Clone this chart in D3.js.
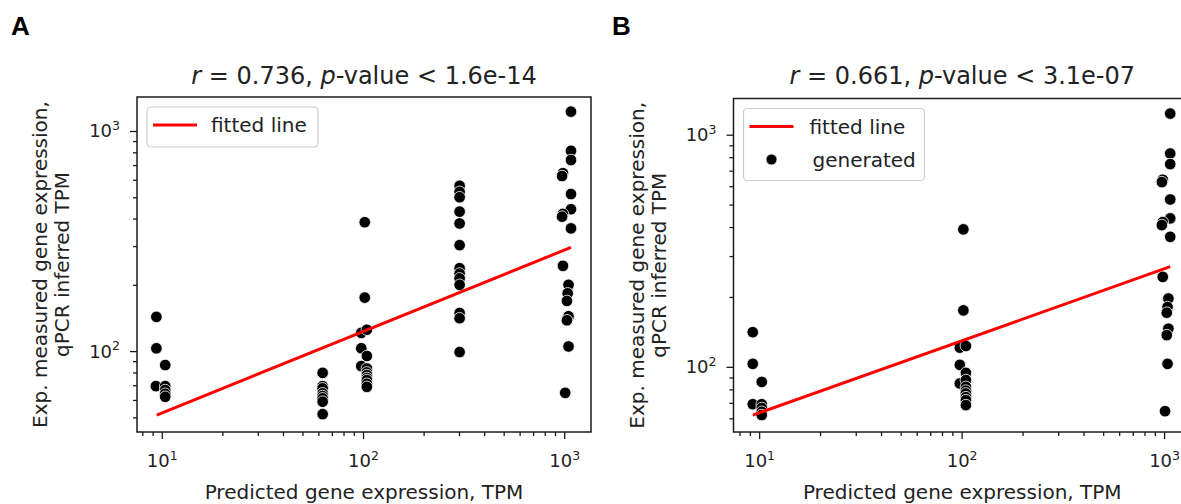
<!DOCTYPE html>
<html lang="en">
<head>
<meta charset="UTF-8" />
<title>qPCR vs predicted expression</title>
<script src="https://d3js.org/d3.v7.min.js"></script>
<style>
  body { margin: 0; background: #fff; overflow: hidden; }
  text { font-family: "DejaVu Sans", sans-serif; fill: #222; }
  .panel-letter { font-family: "Liberation Sans", Arial, sans-serif; font-weight: bold; font-size: 26px; fill: #000; }
  .title { font-size: 24px; }
  .axis-label { font-size: 20px; }
  .tick-label { font-size: 18px; }
  .legend-text { font-size: 20px; }
  .tick line { stroke: #1a1a1a; stroke-width: 1.3; }
</style>
</head>
<body>
<script>
// panel A: predicted TPM vs qPCR-inferred TPM, all tested genes
const aPredicted = [
  9.4, 9.4, 10.4, 9.35, 10.4, 10.4, 10.4, 10.4,
  63, 63, 63, 63, 63, 63, 63, 63,
  102, 102, 98, 104.5, 98, 104.5, 98, 104.5, 104.5, 104.5, 104.5, 104.5, 104.5, 104.5,
  302, 302, 302, 302, 302, 302, 302, 302, 302, 302, 302, 302, 302,
  1080, 1080, 1080, 985, 975, 1080, 1080, 985, 975, 1080, 985, 1050, 1040, 1031, 1050, 1031, 1050, 1011
];
const aMeasured = [
  143, 103, 86.4, 69.3, 69.3, 66.5, 64, 62,
  79.6, 69.3, 67.7, 64.3, 62.5, 61, 58.9, 51.7,
  385, 175, 121, 125, 103, 95, 85.5, 83.4, 80, 77.8, 75.5, 73.8, 71, 68.8,
  564, 529, 500, 430, 380, 303, 238, 225, 214, 200, 149, 141, 99,
  1224, 813, 738, 643, 624, 517, 441, 420, 408, 361, 244, 200, 183, 169, 144, 138, 105, 64.6
];

// panel B: generated promoters only
const bPredicted = [
  9.3, 9.3, 10.3, 9.3, 10.3, 10.3, 10.3, 10.3,
  102, 102, 98, 105, 98, 105, 98, 105, 105, 105, 105, 105, 105, 105,
  1072, 1072, 1072, 985, 975, 1072, 1072, 985, 975, 1072, 985, 1050, 1040, 1031, 1050, 1031, 1040, 1011
];
const bMeasured = [
  141, 103, 86.1, 69, 69, 66.5, 64, 62,
  391, 175, 121, 123, 102, 94.2, 84.8, 87.7, 82, 79, 76.8, 74, 71.9, 68.4,
  1233, 830, 747, 640, 625, 526, 436, 420, 408, 363, 244, 197, 181, 171, 146, 137, 103, 64.4
];

// fitted lines, end points
const aFitX = [9.44, 1080];
const aFitY = [51.2, 296];
const bFitX = [9.31, 1072];
const bFitY = [62, 270];

const titles = [
  { r: "0.736", p: "1.6e-14" },
  { r: "0.661", p: "3.1e-07" }
];
const panelLetters = ["A", "B"];
const legendItems = [["fitted line"], ["fitted line", "generated"]];
const majorTicks = [10, 100, 1000];
const xLabel = "Predicted gene expression, TPM";
const yLabel = ["Exp. measured gene expression,", "qPCR inferred TPM"];

const svg = d3.select("body").append("svg")
  .attr("width", 1181).attr("height", 504);

const panels = [
  { left: 137, right: 591, top: 97, bottom: 432, xDom: [7.53, 1358], yDom: [42.9, 1427],
    xs: aPredicted, ys: aMeasured, fx: aFitX, fy: aFitY, letterX: 11, legendW: 171 },
  { left: 733.5, right: 1191, top: 98.5, bottom: 432, xDom: [7.47, 1358], yDom: [52.4, 1432],
    xs: bPredicted, ys: bMeasured, fx: bFitX, fy: bFitY, letterX: 612, legendW: 181 }
];

function supLabel(sel) {
  sel.each(function (d) {
    const t = d3.select(this).text("");
    t.append("tspan").text("10");
    t.append("tspan").attr("font-size", "12.5px").attr("dy", "-7.5")
      .text(Math.round(Math.log10(d)));
  });
}

panels.forEach((p, i) => {
  const g = svg.append("g");
  const x = d3.scaleLog().domain(p.xDom).range([p.left, p.right]);
  const y = d3.scaleLog().domain(p.yDom).range([p.bottom, p.top]);

  svg.append("text").attr("class", "panel-letter")
    .attr("x", p.letterX).attr("y", 35).text(panelLetters[i]);

  // title
  const tt = g.append("text").attr("class", "title")
    .attr("x", (p.left + p.right) / 2).attr("y", 84).attr("text-anchor", "middle");
  tt.append("tspan").attr("font-style", "italic").text("r");
  tt.append("tspan").text(" = " + titles[i].r + ", ");
  tt.append("tspan").attr("font-style", "italic").text("p");
  tt.append("tspan").text("-value < " + titles[i].p);

  // minor ticks
  const minorX = x.ticks().filter(v => !majorTicks.includes(v));
  const minorY = y.ticks().filter(v => !majorTicks.includes(v));
  g.append("g").attr("transform", `translate(0,${p.bottom})`)
    .call(d3.axisBottom(x).tickValues(minorX).tickSize(4).tickFormat(""))
    .call(a => a.select(".domain").remove());
  g.append("g").attr("transform", `translate(${p.left},0)`)
    .call(d3.axisLeft(y).tickValues(minorY).tickSize(4).tickFormat(""))
    .call(a => a.select(".domain").remove());

  // major ticks
  const xa = g.append("g").attr("transform", `translate(0,${p.bottom})`)
    .call(d3.axisBottom(x).tickValues(majorTicks.filter(v => v >= p.xDom[0] && v <= p.xDom[1]))
      .tickSize(7).tickPadding(0))
    .call(a => a.select(".domain").remove());
  xa.selectAll("text").attr("class", "tick-label").attr("dy", null).attr("y", 35)
    .attr("font-size", null).attr("font-family", null).attr("fill", null).call(supLabel);

  const ya = g.append("g").attr("transform", `translate(${p.left},0)`)
    .call(d3.axisLeft(y).tickValues(majorTicks.filter(v => v >= p.yDom[0] && v <= p.yDom[1]))
      .tickSize(7).tickPadding(0))
    .call(a => a.select(".domain").remove());
  ya.selectAll("text").attr("class", "tick-label").attr("dy", null).attr("y", 6).attr("x", -17)
    .attr("font-size", null).attr("font-family", null).attr("fill", null).call(supLabel);

  // axis labels
  g.append("text").attr("class", "axis-label")
    .attr("x", (p.left + p.right) / 2).attr("y", 499).attr("text-anchor", "middle").text(xLabel);
  const cy = (p.top + p.bottom) / 2;
  yLabel.forEach((line, k) => {
    g.append("text").attr("class", "axis-label").attr("text-anchor", "middle")
      .attr("transform", `translate(${p.left - 90 + k * 22},${cy}) rotate(-90)`)
      .text(line);
  });

  // points
  const pts = p.xs.map((v, k) => ({ x: v, y: p.ys[k] }));
  g.append("g").selectAll("circle").data(pts).join("circle")
    .attr("cx", d => x(d.x)).attr("cy", d => y(d.y)).attr("r", 5.8)
    .attr("fill", "#000").attr("stroke", "#fff").attr("stroke-width", 0.8);

  // fitted line
  g.append("path")
    .datum(p.fx.map((v, k) => [v, p.fy[k]]))
    .attr("fill", "none").attr("stroke", "#ff0000").attr("stroke-width", 3)
    .attr("d", d3.line().x(d => x(d[0])).y(d => y(d[1])));

  // frame
  g.append("rect").attr("x", p.left).attr("y", p.top)
    .attr("width", p.right - p.left).attr("height", p.bottom - p.top)
    .attr("fill", "none").attr("stroke", "#1a1a1a").attr("stroke-width", 1.5);

  // legend
  const items = legendItems[i];
  const lx = p.left + 10, ly = p.top + 10;
  const lg = g.append("g");
  lg.append("rect").attr("x", lx).attr("y", ly)
    .attr("width", p.legendW).attr("height", 8 + items.length * 32)
    .attr("rx", 4).attr("fill", "#fff").attr("fill-opacity", 0.8)
    .attr("stroke", "#cccccc").attr("stroke-width", 1.2);
  items.forEach((name, k) => {
    const yy = ly + 18 + k * 33;
    if (name === "fitted line") {
      lg.append("line").attr("x1", lx + 6).attr("x2", lx + 50)
        .attr("y1", yy).attr("y2", yy).attr("stroke", "#ff0000").attr("stroke-width", 3);
    } else {
      lg.append("circle").attr("cx", lx + 28).attr("cy", yy).attr("r", 5.5)
        .attr("fill", "#000").attr("stroke", "#fff").attr("stroke-width", 0.8);
    }
    lg.append("text").attr("class", "legend-text")
      .attr("x", lx + (i === 0 ? 64 : 66 + (k === 1 ? 3 : 0))).attr("y", yy + 7).text(name);
  });
});
</script>
</body>
</html>
